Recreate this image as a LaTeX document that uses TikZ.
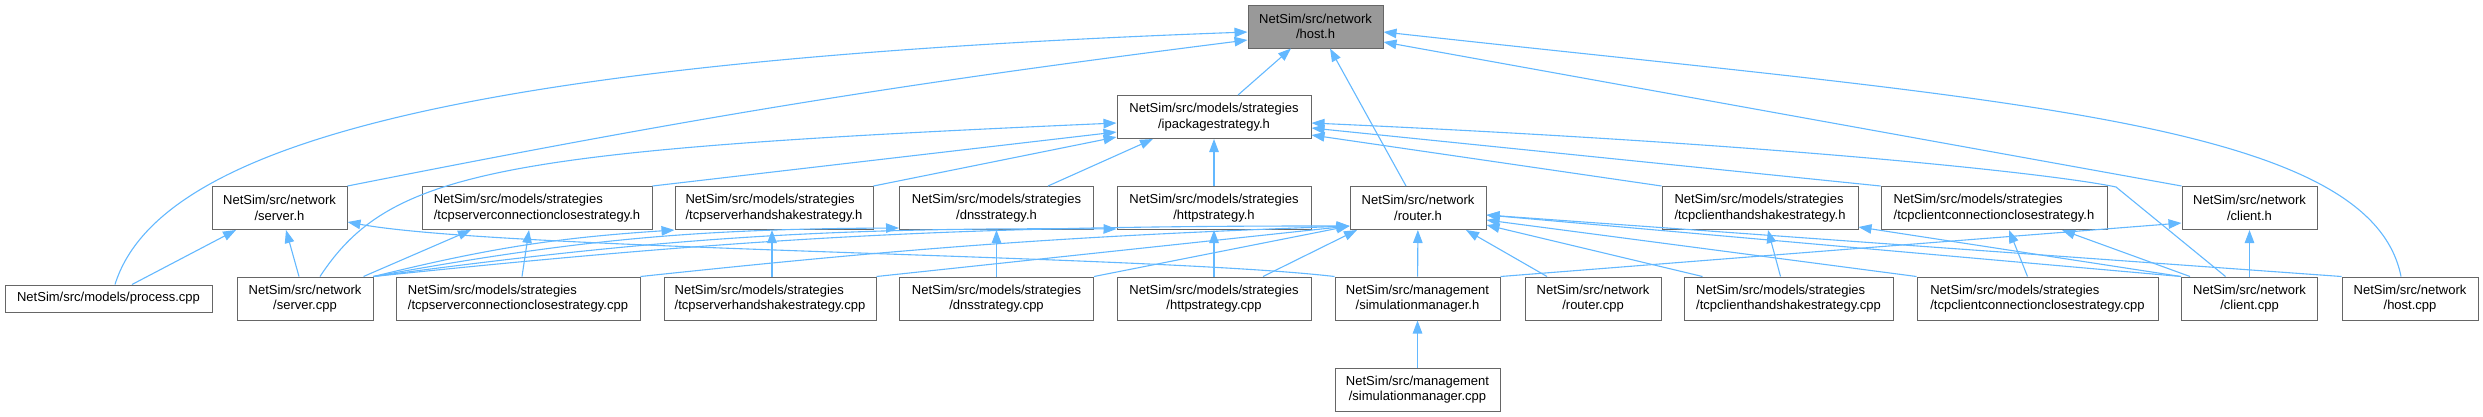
\documentclass[tikz,border=0pt]{standalone}
\usepackage{fontspec}
\setmainfont{Liberation Sans}
\usetikzlibrary{arrows.meta}
\definecolor{edgeblue}{HTML}{63B8FF}
\definecolor{boxgray}{HTML}{666666}
\definecolor{rootgray}{HTML}{999999}

\begin{document}
\begin{tikzpicture}[x=1pt,y=-1pt,
  filebox/.style={draw=boxgray, line width=1pt, fill=white, inner sep=0pt,
    minimum height=43pt, align=center, font=\fontsize{13}{15.5}\selectfont},
  leftbox/.style={filebox, align=left},
  rootbox/.style={filebox, fill=rootgray},
  incl/.style={draw=edgeblue, line width=1.1pt, -{Triangle[length=13pt,width=9.5pt]}}]
  \useasboundingbox (0,0) rectangle (2483,416);

  % Root header
  \node[rootbox, minimum width=135pt] (hosth) at (1315.5,26.5) {NetSim/src/network\\/host.h};
  \node[filebox, minimum width=194pt] (ipack) at (1214,117) {NetSim/src/models/strategies\\/ipackagestrategy.h};

  % Second row of headers
  \node[filebox, minimum width=135pt] (serverh) at (279.5,208) {NetSim/src/network\\/server.h};
  \node[leftbox, minimum width=230pt] (tcpscch) at (537,208) {NetSim/src/models/strategies\\/tcpserverconnectionclosestrategy.h};
  \node[leftbox, minimum width=198pt] (tcpshsh) at (774,208) {NetSim/src/models/strategies\\/tcpserverhandshakestrategy.h};
  \node[filebox, minimum width=194pt] (dnsh) at (996.5,208) {NetSim/src/models/strategies\\/dnsstrategy.h};
  \node[filebox, minimum width=194pt] (httph) at (1214,208) {NetSim/src/models/strategies\\/httpstrategy.h};
  \node[filebox, minimum width=136pt] (routerh) at (1418,208) {NetSim/src/network\\/router.h};
  \node[leftbox, minimum width=196pt] (tcpchsh) at (1760,208) {NetSim/src/models/strategies\\/tcpclienthandshakestrategy.h};
  \node[leftbox, minimum width=226pt] (tcpccch) at (1994,208) {NetSim/src/models/strategies\\/tcpclientconnectionclosestrategy.h};
  \node[filebox, minimum width=135pt] (clienth) at (2249.5,208) {NetSim/src/network\\/client.h};

  % Sources
  \node[filebox, minimum width=207pt, minimum height=27pt] (processcpp) at (108.5,298.5) {NetSim/src/models/process.cpp};
  \node[filebox, minimum width=136pt] (servercpp) at (305,298.5) {NetSim/src/network\\/server.cpp};
  \node[leftbox, minimum width=244pt] (tcpscccpp) at (518,298.5) {NetSim/src/models/strategies\\/tcpserverconnectionclosestrategy.cpp};
  \node[leftbox, minimum width=212pt] (tcpshscpp) at (770,298.5) {NetSim/src/models/strategies\\/tcpserverhandshakestrategy.cpp};
  \node[filebox, minimum width=194pt] (dnscpp) at (996.5,298.5) {NetSim/src/models/strategies\\/dnsstrategy.cpp};
  \node[filebox, minimum width=194pt] (httpcpp) at (1214,298.5) {NetSim/src/models/strategies\\/httpstrategy.cpp};
  \node[filebox, minimum width=165pt] (simmgrh) at (1417.5,298.5) {NetSim/src/management\\/simulationmanager.h};
  \node[filebox, minimum width=136pt] (routercpp) at (1593,298.5) {NetSim/src/network\\/router.cpp};
  \node[leftbox, minimum width=209pt] (tcpchscpp) at (1788.5,298.5) {NetSim/src/models/strategies\\/tcpclienthandshakestrategy.cpp};
  \node[leftbox, minimum width=241pt] (tcpccccpp) at (2037.5,298.5) {NetSim/src/models/strategies\\/tcpclientconnectionclosestrategy.cpp};
  \node[filebox, minimum width=136pt] (clientcpp) at (2249.5,298.5) {NetSim/src/network\\/client.cpp};
  \node[filebox, minimum width=136pt] (hostcpp) at (2410,298.5) {NetSim/src/network\\/host.cpp};
  \node[filebox, minimum width=165pt] (simmgrcpp) at (1417.5,389.5) {NetSim/src/management\\/simulationmanager.cpp};

  % Includes of host.h
  \draw[incl] ([xshift=6.5pt]processcpp.north) .. controls (160,140) and (480,60) .. ([yshift=-5.5pt]hosth.west);
  \draw[incl] (serverh.north east) to[bend left=2] ([yshift=-13.5pt]hosth.west);
  \draw[incl] ([xshift=24pt]ipack.north) -- ([xshift=-24.5pt]hosth.south);
  \draw[incl] ([xshift=-12pt]routerh.north) -- ([xshift=14.5pt]hosth.south);
  \draw[incl] (clienth.north west) -- ([yshift=-15.5pt]hosth.east);
  \draw[incl] ([xshift=-9pt]hostcpp.north) .. controls (2370,120) and (2000,100) .. ([yshift=-5.5pt]hosth.east);

  % Includes of ipackagestrategy.h
  \draw[incl] ([xshift=15pt]servercpp.north) .. controls (390,170) and (500,150) .. ([yshift=-6pt]ipack.west);
  \draw[incl] (tcpscch.north east) -- ([yshift=-15pt]ipack.west);
  \draw[incl] (tcpshsh.north east) -- ([yshift=2pt]ipack.south west);
  \draw[incl] ([xshift=51.5pt]dnsh.north) -- ([xshift=-61pt]ipack.south);
  \draw[incl] (httph) -- (ipack);
  \draw[incl] ([xshift=-24pt]clientcpp.north) -- (2116,187) .. controls (2060,175) and (1800,145) .. ([yshift=-6pt]ipack.east);
  \draw[incl] (tcpccch.north west) -- ([yshift=-11pt]ipack.east);
  \draw[incl] (tcpchsh.north west) -- ([yshift=-18pt]ipack.east);

  % Includes of server.h
  \draw[incl] ([xshift=23.5pt]processcpp.north) -- ([xshift=-43.5pt]serverh.south);
  \draw[incl] ([xshift=-6pt]servercpp.north) -- ([xshift=6.5pt]serverh.south);
  \draw[incl] (simmgrh.north west) .. controls (1150,255) and (500,250) .. ([yshift=-14pt]serverh.east);

  % server.cpp
  \draw[incl] ([xshift=-10pt]servercpp.north east) -- ([xshift=-66pt]tcpscch.south);
  \draw[incl] (servercpp.north east) to[bend left=5] (tcpshsh.south west);
  \draw[incl] (servercpp.north east) to[bend left=5] ([yshift=2pt]dnsh.south west);
  \draw[incl] (servercpp.north east) to[bend left=4] ([yshift=1pt]httph.south west);
  \draw[incl] (servercpp.north east) to[bend left=3] ([yshift=4pt]routerh.south west);

  % Strategy sources
  \draw[incl] ([xshift=4pt]tcpscccpp.north) -- ([xshift=-8pt]tcpscch.south);
  \draw[incl] (tcpscccpp.north east) to[bend left=2] ([yshift=4pt]routerh.south west);
  \draw[incl] ([xshift=2pt]tcpshscpp.north) -- ([xshift=-2pt]tcpshsh.south);
  \draw[incl] (tcpshscpp.north east) -- ([yshift=4pt]routerh.south west);
  \draw[incl] (dnscpp) -- (dnsh);
  \draw[incl] (dnscpp.north east) -- ([yshift=4pt]routerh.south west);
  \draw[incl] (httpcpp) -- (httph);
  \draw[incl] ([xshift=49pt]httpcpp.north) -- ([xshift=-61pt]routerh.south);

  % simulationmanager and router.cpp
  \draw[incl] (simmgrh) -- (routerh);
  \draw[incl] (simmgrh.north east) -- ([yshift=7pt]clienth.south west);
  \draw[incl] (simmgrcpp) -- (simmgrh);
  \draw[incl] ([xshift=-46pt]routercpp.north) -- ([xshift=48pt]routerh.south);

  % Client side
  \draw[incl] ([xshift=-8pt]tcpchscpp.north) -- ([xshift=8pt]tcpchsh.south);
  \draw[incl] ([xshift=-86pt]tcpchscpp.north) -- ([yshift=-17pt]routerh.east);
  \draw[incl] ([xshift=-10pt]tcpccccpp.north) -- ([xshift=15pt]tcpccch.south);
  \draw[incl] (tcpccccpp.north west) -- ([yshift=-12pt]routerh.east);
  \draw[incl] (clientcpp.north west) -- ([yshift=-7pt]routerh.east);
  \draw[incl] (clientcpp.north west) -- ([yshift=3pt]tcpchsh.south east);
  \draw[incl] ([xshift=9pt]clientcpp.north west) -- ([xshift=68pt]tcpccch.south);
  \draw[incl] (clientcpp) -- (clienth);
  \draw[incl] (hostcpp.north west) -- ([yshift=-7pt]routerh.east);

\end{tikzpicture}
\end{document}
